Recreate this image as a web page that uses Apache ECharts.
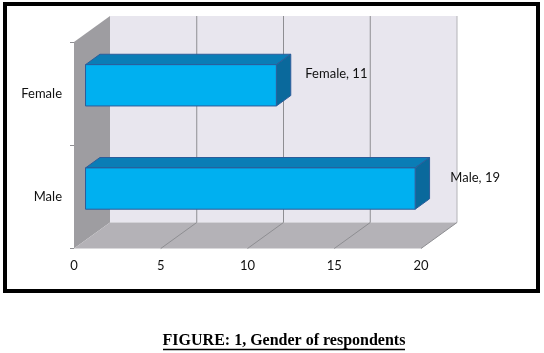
<!DOCTYPE html>
<html>
<head>
<meta charset="utf-8">
<script src="https://cdn.jsdelivr.net/npm/echarts@6/dist/echarts.min.js"></script>
<style>
  html, body { margin: 0; padding: 0; background: #fff; }
  #chart { width: 544px; height: 353px; }
</style>
</head>
<body>
<div id="chart"></div>
<script>
// 3D-look horizontal bar (Excel style): walls + bars are custom series driven by the axes
const CATEGORIES = ['Male', 'Female'] // bottom → top
const COUNTS = [19, 11]
const X_TICKS = [0, 5, 10, 15, 20]
const CAPTION = 'FIGURE: 1, Gender of respondents'

const DX = 36, DY = -26 // chart depth offset (px)
const BAR_FRONT = 0.32, BAR_DEPTH = 0.4, BAR_H = 0.4
const C = {
  back: '#E8E6EE', side: '#9E9DA1', floor: '#B4B2B7', grid: '#8E8E92',
  front: '#00B0F0', top: '#0A7DB6', right: '#0A699C', edge: '#2C5D9A', text: '#111',
}
const FONT = 'Lato, "Open Sans", sans-serif'

const chart = echarts.init(document.getElementById('chart'))

function renderWalls(params, api) {
  const cs = params.coordSys
  const top = cs.y, bottom = cs.y + cs.height
  const x0 = api.coord([X_TICKS[0], 0])[0]
  const xN = api.coord([X_TICKS[X_TICKS.length - 1], 0])[0]
  const poly = (pts, fill) => ({ type: 'polygon', shape: { points: pts }, style: { fill }, silent: true })
  const line = (a, b, stroke) => ({
    type: 'line', shape: { x1: a[0], y1: a[1], x2: b[0], y2: b[1] },
    style: { stroke, lineWidth: 1 }, silent: true,
  })
  const children = [
    poly([[x0 + DX, top + DY], [xN + DX, top + DY], [xN + DX, bottom + DY], [x0 + DX, bottom + DY]], C.back),
    poly([[x0, top], [x0 + DX, top + DY], [x0 + DX, bottom + DY], [x0, bottom]], C.side),
    poly([[x0, bottom], [x0 + DX, bottom + DY], [xN + DX, bottom + DY], [xN, bottom]], C.floor),
  ]
  X_TICKS.forEach((t, k) => {
    if (k === 0) return
    const x = api.coord([t, 0])[0]
    children.push(line([x + DX, top + DY], [x + DX, bottom + DY], k === X_TICKS.length - 1 ? '#B4B4B8' : C.grid))
    children.push(line([x, bottom], [x + DX, bottom + DY], C.grid))
  })
  return { type: 'group', children }
}

function renderBar(params, api) {
  const i = api.value(1)
  const v = api.value(0)
  const start = api.coord([0, i])
  const end = api.coord([v, i])
  const band = api.size([0, 1])[1]
  const h = band * BAR_H
  const fx = DX * BAR_FRONT, fy = DY * BAR_FRONT
  const dx = DX * BAR_DEPTH, dy = DY * BAR_DEPTH
  const x1 = start[0] + fx, x2 = end[0] + fx
  const y1 = start[1] + fy - h / 2, y2 = y1 + h
  const st = fill => ({ fill, stroke: C.edge, lineWidth: 1 })
  return {
    type: 'group',
    children: [
      { type: 'polygon', shape: { points: [[x1, y1], [x1 + dx, y1 + dy], [x2 + dx, y1 + dy], [x2, y1]] }, style: st(C.top) },
      { type: 'polygon', shape: { points: [[x2, y1], [x2 + dx, y1 + dy], [x2 + dx, y2 + dy], [x2, y2]] }, style: st(C.right) },
      { type: 'rect', shape: { x: x1, y: y1, width: x2 - x1, height: h }, style: st(C.front) },
      {
        type: 'text',
        style: {
          x: x2 + 60, y: (y1 + y2) / 2 - 11,
          text: `${CATEGORIES[i]}, ${v}`, align: 'center', verticalAlign: 'middle',
          fill: C.text, font: `13px ${FONT}`,
        },
      },
    ],
  }
}

chart.setOption({
  animation: false,
  backgroundColor: '#fff',
  grid: { left: 74, top: 42, width: 347, height: 206.5, containLabel: false },
  xAxis: {
    type: 'value', min: 0, max: 20, interval: 5,
    axisLine: { show: false }, axisTick: { show: false }, splitLine: { show: false },
    axisLabel: { color: C.text, fontSize: 13, fontFamily: FONT, margin: 11 },
  },
  yAxis: {
    type: 'category', data: CATEGORIES,
    axisLine: { show: false },
    axisTick: { show: true, length: 4, lineStyle: { color: '#8E8E92' } },
    axisLabel: { color: C.text, fontSize: 13, fontFamily: FONT, margin: 12 },
    splitLine: { show: false },
  },
  graphic: [
    { type: 'rect', shape: { x: 5, y: 4, width: 533, height: 287 }, style: { fill: 'none', stroke: '#000', lineWidth: 4 }, z: 10 },
    {
      type: 'text', x: 284, y: 341,
      style: { text: CAPTION, align: 'center', verticalAlign: 'middle', fill: '#000', font: 'bold 16px "Liberation Serif", "Times New Roman", serif' },
    },
    { type: 'line', shape: { x1: 163, y1: 349.5, x2: 405, y2: 349.5 }, style: { stroke: '#000', lineWidth: 1.3 } },
  ],
  series: [
    { type: 'custom', renderItem: renderWalls, data: [[0, 0]], silent: true, z: 1 },
    { type: 'custom', renderItem: renderBar, data: COUNTS.map((v, i) => [v, i]), z: 2 },
  ],
})
</script>
</body>
</html>
